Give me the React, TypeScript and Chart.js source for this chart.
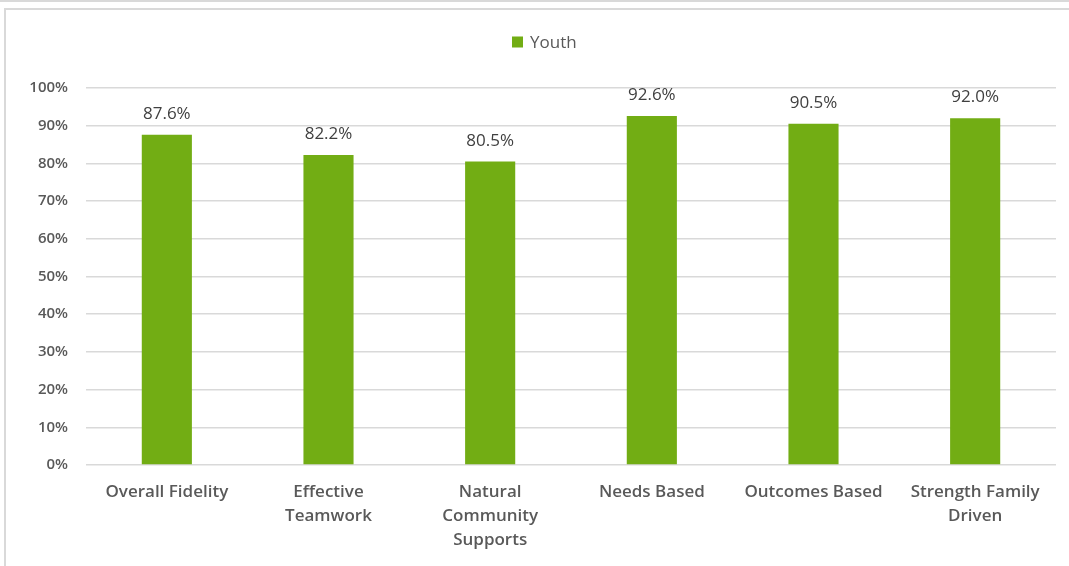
import React, { useEffect, useRef } from "react";
import { Chart, registerables } from "chart.js";

Chart.register(...registerables);

const categories: (string | string[])[] = [
  "Overall Fidelity",
  ["Effective", "Teamwork"],
  ["Natural", "Community", "Supports"],
  "Needs Based",
  "Outcomes Based",
  ["Strength Family", "Driven"],
];
const youthValues = [87.6, 82.2, 80.5, 92.6, 90.5, 92.0];
const seriesName = "Youth";
const barColor = "#72AD14";
const textColor = "#595959";
const fontFamily = "'Open Sans', 'Noto Sans', sans-serif";

const labelPlugin = {
  id: "valueLabels",
  afterDatasetsDraw(chart: any) {
    const ctx = chart.ctx;
    const meta = chart.getDatasetMeta(0);
    ctx.save();
    ctx.font = `17px ${fontFamily}`;
    ctx.fillStyle = "#404040";
    ctx.textAlign = "center";
    ctx.textBaseline = "alphabetic";
    meta.data.forEach((bar: any, i: number) => {
      ctx.fillText(youthValues[i].toFixed(1) + "%", bar.x, bar.y - 16);
    });
    ctx.restore();
  },
};

const legendPlugin = {
  id: "customLegend",
  afterDraw(chart: any) {
    const ctx = chart.ctx;
    ctx.save();
    ctx.font = `17px ${fontFamily}`;
    const tw = ctx.measureText(seriesName).width;
    const box = 11;
    const gap = 7;
    const x0 = 512;
    const cy = 42;
    ctx.fillStyle = barColor;
    ctx.fillRect(x0, cy - box / 2, box, box);
    ctx.fillStyle = textColor;
    ctx.textBaseline = "middle";
    ctx.textAlign = "left";
    ctx.fillText(seriesName, x0 + box + gap, cy + 1);
    ctx.restore();
  },
};

export default function App() {
  const ref = useRef<HTMLCanvasElement>(null);
  useEffect(() => {
    document.body.style.margin = "0";
    const chart = new Chart(ref.current!, {
      type: "bar",
      data: {
        labels: categories,
        datasets: [
          {
            label: seriesName,
            data: youthValues,
            backgroundColor: barColor,
            categoryPercentage: 1,
            barPercentage: 0.31,
          },
        ],
      },
      options: {
        animation: false,
        responsive: false,
        layout: { padding: { top: 88, right: 13, bottom: 0, left: 0 } },
        plugins: { legend: { display: false }, tooltip: { enabled: false } },
        scales: {
          x: {
            grid: { display: false, drawTicks: false },
            border: { display: false },
            ticks: {
              color: textColor,
              padding: 15,
              maxRotation: 0,
              autoSkip: false,
              font: { family: fontFamily, size: 17, weight: 600, lineHeight: 1.42 },
            },
            afterFit: (s: any) => {
              s.height = 101;
            },
          },
          y: {
            min: 0,
            max: 100,
            ticks: {
              stepSize: 10,
              color: textColor,
              padding: 18,
              font: { family: fontFamily, size: 15, weight: 600 },
              callback: (v: any) => v + "%",
            },
            grid: { color: "#d9d9d9", lineWidth: 1.5, drawTicks: false },
            border: { display: false },
            afterFit: (s: any) => {
              s.width = 86;
            },
          },
        },
      },
      plugins: [labelPlugin, legendPlugin],
    });
    return () => chart.destroy();
  }, []);
  return (
    <div style={{ position: "absolute", left: 0, top: 0, width: 1069, height: 566, overflow: "hidden", background: "#fff" }}>
      <div style={{ position: "absolute", left: 0, top: 0, width: 1069, height: 2, background: "#d9d9d9" }} />
      <div
        style={{
          position: "absolute",
          left: 4,
          top: 8,
          width: 1080,
          height: 600,
          border: "2px solid #d9d9d9",
          boxSizing: "border-box",
        }}
      />
      <canvas ref={ref} width={1069} height={566} style={{ position: "absolute", left: 0, top: 0 }} />
    </div>
  );
}
